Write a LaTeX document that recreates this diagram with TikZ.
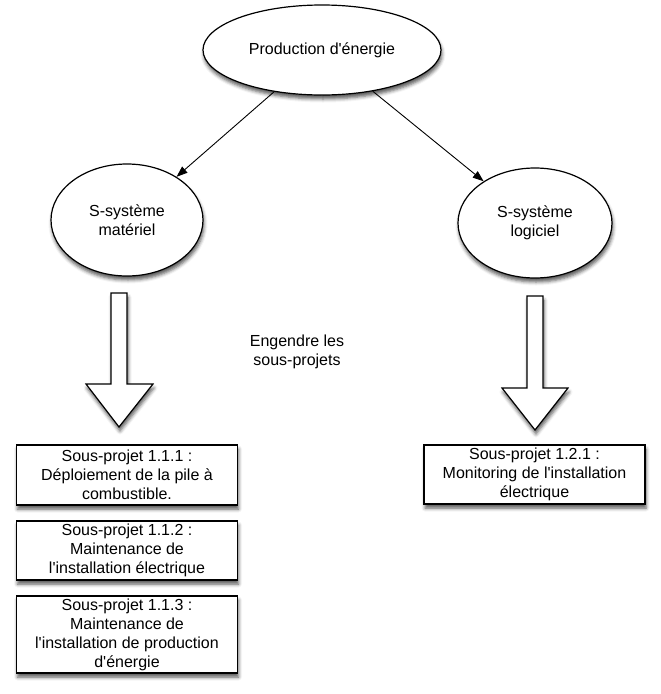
\documentclass[tikz,border=0pt]{standalone}
\usepackage{fontspec}
\setmainfont{Liberation Sans}
\usetikzlibrary{shapes.geometric,arrows.meta,shadows.blur}

\tikzset{ombre/.style={blur shadow={shadow xshift=1pt, shadow yshift=-4pt, shadow blur radius=3.5pt, shadow opacity=65}}}
\tikzset{sysnode/.style={ellipse, draw, line width=1.2pt, fill=white, ombre, inner sep=0pt, align=center, font=\fontsize{16}{19}\selectfont}}
\tikzset{projnode/.style={rectangle, draw, line width=1.2pt, fill=white, ombre, inner sep=0pt, minimum width=221pt, align=center, font=\fontsize{16}{19}\selectfont}}
\tikzset{grossefleche/.style={draw, line width=1.2pt, fill=white, ombre}}

\begin{document}
\begin{tikzpicture}[x=1pt, y=-1pt, >={Triangle[length=11pt, width=8pt]}]
		\useasboundingbox (0,0) rectangle (661,694);

		%systemes
		\node[sysnode, minimum width=238pt, minimum height=90pt] (prod) at (322,50) {Production d\textquotesingle énergie};
		\node[sysnode, minimum width=152pt, minimum height=112pt] (mat) at (127,220) {S-système \\ matériel};
		\node[sysnode, minimum width=154pt, minimum height=110pt] (log) at (535,223) {S-système \\ logiciel};

		\path[->, line width=0.9pt] (prod) edge (mat);
		\path[->, line width=0.9pt] (prod) edge (log);

		%grosses fleches
		\coordinate (flecheMat) at (119,293);
		\coordinate (flecheLog) at (535,296);
		\draw[grossefleche] (flecheMat) ++(-8,0) -- ++(16,0) -- ++(0,91) -- ++(26,0) -- ++(-34,43) -- ++(-33,-43) -- ++(25,0) -- cycle;
		\draw[grossefleche] (flecheLog) ++(-8,0) -- ++(16,0) -- ++(0,92) -- ++(25,0) -- ++(-33,42) -- ++(-33,-42) -- ++(25,0) -- cycle;

		\node[align=center, font=\fontsize{16}{19}\selectfont] (engendre) at (297,352) {Engendre les \\ sous-projets};

		%sous-projets
		\node[projnode, minimum height=60pt] (sp111) at (127,475) {Sous-projet 1.1.1 : \\ Déploiement de la pile à \\ combustible.};
		\node[projnode, minimum height=59pt] (sp112) at (127,550.5) {Sous-projet 1.1.2 : \\ Maintenance de \\ l\textquotesingle installation électrique};
		\node[projnode, minimum height=77pt] (sp113) at (127,634.5) {Sous-projet 1.1.3 : \\ Maintenance de \\ l\textquotesingle installation de production \\ d\textquotesingle énergie};
		\node[projnode, minimum height=59pt] (sp121) at (534.5,474.5) {Sous-projet 1.2.1 : \\ Monitoring de l\textquotesingle installation \\ électrique};

	\end{tikzpicture}
\end{document}
